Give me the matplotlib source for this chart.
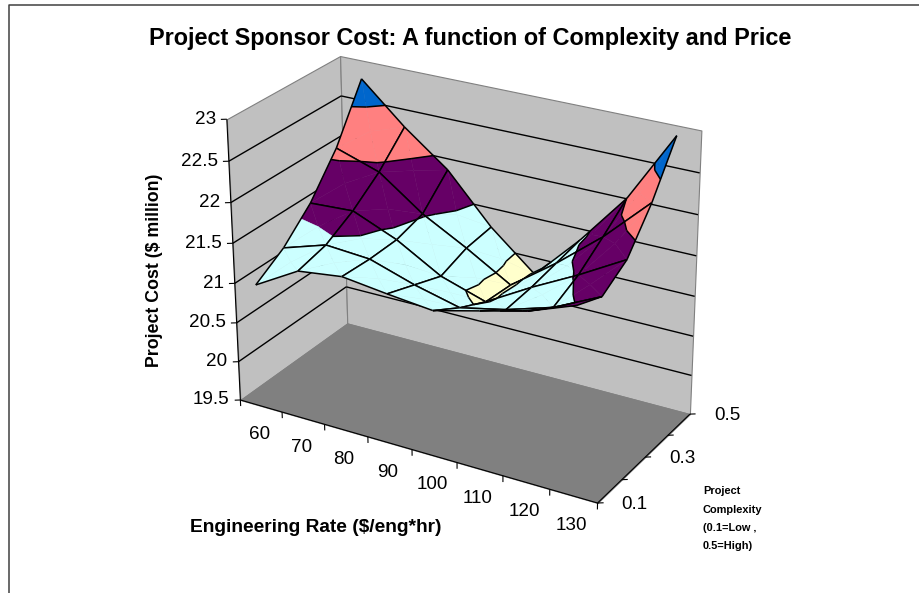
import numpy as np
import matplotlib
matplotlib.use("Agg")
import matplotlib.pyplot as plt
from matplotlib.lines import Line2D
from mpl_toolkits.mplot3d import proj3d
from mpl_toolkits.mplot3d.art3d import Poly3DCollection, Line3DCollection

plt.rcParams['font.family'] = ['Liberation Sans', 'DejaVu Sans']

TITLE = "Project Sponsor Cost: A function of Complexity and Price"
rates = [60, 70, 80, 90, 100, 110, 120, 130]
complexity = [0.1, 0.2, 0.3, 0.4, 0.5]
z_ticks = [19.5, 20, 20.5, 21, 21.5, 22, 22.5, 23]
cost_c01 = [21.05, 21.36, 21.43, 21.36, 21.30, 21.44, 21.58, 21.79]
cost_c02 = [21.28, 21.45, 21.41, 21.23, 21.09, 21.21, 21.38, 21.65]
cost_c03 = [21.62, 21.65, 21.42, 21.10, 20.92, 21.24, 21.53, 21.85]
cost_c04 = [22.10, 21.92, 21.52, 21.22, 20.89, 21.30, 21.76, 22.30]
cost_c05 = [22.77, 22.28, 21.86, 21.26, 20.79, 21.36, 22.01, 22.88]
band_colors = ['#9999FF', '#993366', '#FFFFCC', '#CCFFFF', '#660066', '#FF8080', '#0066CC']

W, H = 920, 593
fig = plt.figure(figsize=(W/100, H/100), dpi=100, facecolor='white')
ax = fig.add_axes([184.9/W, 45.0/H, 541.9/W, 541.9/H], projection='3d', computed_zorder=False)
ax.set_xlim(55, 135, view_margin=0); ax.set_ylim(0.1, 0.5, view_margin=0); ax.set_zlim(19.5, 23, view_margin=0)
ax.set_axis_off(); ax.patch.set_alpha(0)
ax.view_init(elev=25.316, azim=-59.589, roll=0.241)
ax.set_proj_type('persp', focal_length=0.840)
ax.set_box_aspect((1.332, 0.654, 1.0))

X = np.array(rates, float)
Y = np.array(complexity, float)
Z = np.array([cost_c01, cost_c02, cost_c03, cost_c04, cost_c05])
x0, x1, y0, y1, zb, zt = 55, 135, .1, .5, z_ticks[0], z_ticks[-1]
M = ax.get_proj()

def quad(pts, color, edge, zo):
    ax.add_collection3d(Poly3DCollection([pts], facecolors=color, edgecolors=edge, linewidths=.8, zorder=zo))
quad([(x0,y0,zb),(x0,y1,zb),(x0,y1,zt),(x0,y0,zt)], '#C0C0C0', '#808080', 1)
quad([(x0,y1,zb),(x1,y1,zb),(x1,y1,zt),(x0,y1,zt)], '#C0C0C0', '#808080', 1)
quad([(x0,y0,zb),(x1,y0,zb),(x1,y1,zb),(x0,y1,zb)], '#808080', '#808080', 1)
segs = []
for z in z_ticks[1:-1]:
    segs.append([(x0,y0,z),(x0,y1,z)]); segs.append([(x0,y1,z),(x1,y1,z)])
ax.add_collection3d(Line3DCollection(segs, colors='black', linewidths=1, zorder=2))
axis_segs = [[(x0,y0,zb),(x0,y0,zt)], [(x0,y0,zb),(x1,y0,zb)], [(x1,y0,zb),(x1,y1,zb)]]
for z in z_ticks:
    axis_segs.append([(x0,y0,z),(x0-.93,y0-.0064,z)])
for r in list(X-5)+[x1]:
    axis_segs.append([(r,y0,zb),(r,y0,zb-.08)])
for c in Y:
    axis_segs.append([(x1,c,zb),(x1+.93,c+.0064,zb)])
ax.add_collection3d(Line3DCollection(axis_segs, colors='black', linewidths=.8, zorder=2))

levels = z_ticks
def clip(poly, lev, keep_above):
    out = []
    n = len(poly)
    for k in range(n):
        a, c = poly[k], poly[(k+1) % n]
        ina = (a[2] >= lev) if keep_above else (a[2] <= lev)
        inc = (c[2] >= lev) if keep_above else (c[2] <= lev)
        if ina: out.append(a)
        if ina != inc:
            t = (lev-a[2])/(c[2]-a[2])
            out.append(tuple(np.array(a)+t*(np.array(c)-np.array(a))))
    return out

zo = 3.0
for j in range(len(Y)-2, -1, -1):
    for i in range(len(X)-1):
        P = [(X[i],Y[j],Z[j,i]),(X[i+1],Y[j],Z[j,i+1]),(X[i+1],Y[j+1],Z[j+1,i+1]),(X[i],Y[j+1],Z[j+1,i])]
        C = tuple(np.mean(np.array(P), axis=0))
        polys, cols, lines = [], [], []
        for k in range(4):
            tri = [P[k], P[(k+1) % 4], C]
            for b in range(len(levels)-1):
                piece = clip(clip(tri, levels[b], True), levels[b+1], False)
                if len(piece) >= 3:
                    polys.append(piece); cols.append(band_colors[b])
            for lev in levels:
                cross = []
                for m in range(3):
                    a, c = tri[m], tri[(m+1) % 3]
                    if (a[2]-lev)*(c[2]-lev) < 0:
                        t = (lev-a[2])/(c[2]-a[2])
                        cross.append(tuple(np.array(a)+t*(np.array(c)-np.array(a))))
                if len(cross) == 2:
                    lines.append(cross)
        for k in range(4):
            lines.append([P[k], P[(k+1) % 4]])
        ax.add_collection3d(Poly3DCollection(polys, facecolors=cols, edgecolors=cols, linewidths=.3, zorder=zo))
        ax.add_collection3d(Line3DCollection(lines, colors='black', linewidths=1.1, zorder=zo+.01))
        zo += .1

fs = 13.6
def label3d(x, y, z, s, dx, dy, **kw):
    px, py, _ = proj3d.proj_transform(x, y, z, M)
    ax.annotate(s, xy=(float(px), float(py)), xycoords='data', xytext=(dx, dy), textcoords='offset pixels',
                fontsize=fs, color='black', annotation_clip=False, **kw)
for z in z_ticks:
    label3d(x0, y0, z, f"{z:g}", -11, 0, ha='right', va='center')
for r in rates:
    label3d(r, y0, zb, f"{r}", -2, -29, ha='center', va='center')
for c in [0.1, 0.3, 0.5]:
    label3d(x1, c, zb, f"{c:g}", 37, -1, ha='center', va='center')

def ftext(x, y, s, **kw):
    return fig.text(x/W, 1-y/H, s, **kw)
ftext(470, 38.5, TITLE, ha='center', va='center', fontsize=16.9, fontweight='bold')
ftext(155, 270, "Project Cost ($ million)", rotation=90, ha='center', va='center', fontsize=12.8, fontweight='bold')
ftext(316, 527, "Engineering Rate ($/eng*hr)", ha='center', va='center', fontsize=13.8, fontweight='bold')
for yy, s_ in zip([491, 510, 528, 546], ["Project", "Complexity", "(0.1=Low ,", "0.5=High)"]):
    ftext(703, yy, s_, ha='left', va='center', fontsize=7.9, fontweight='bold')

fig.add_artist(Line2D([9/W, 9/W, 1], [0, 1-5/H, 1-5/H], color='#404040', lw=1.1, transform=fig.transFigure))
fig.savefig('out.png', dpi=100)
